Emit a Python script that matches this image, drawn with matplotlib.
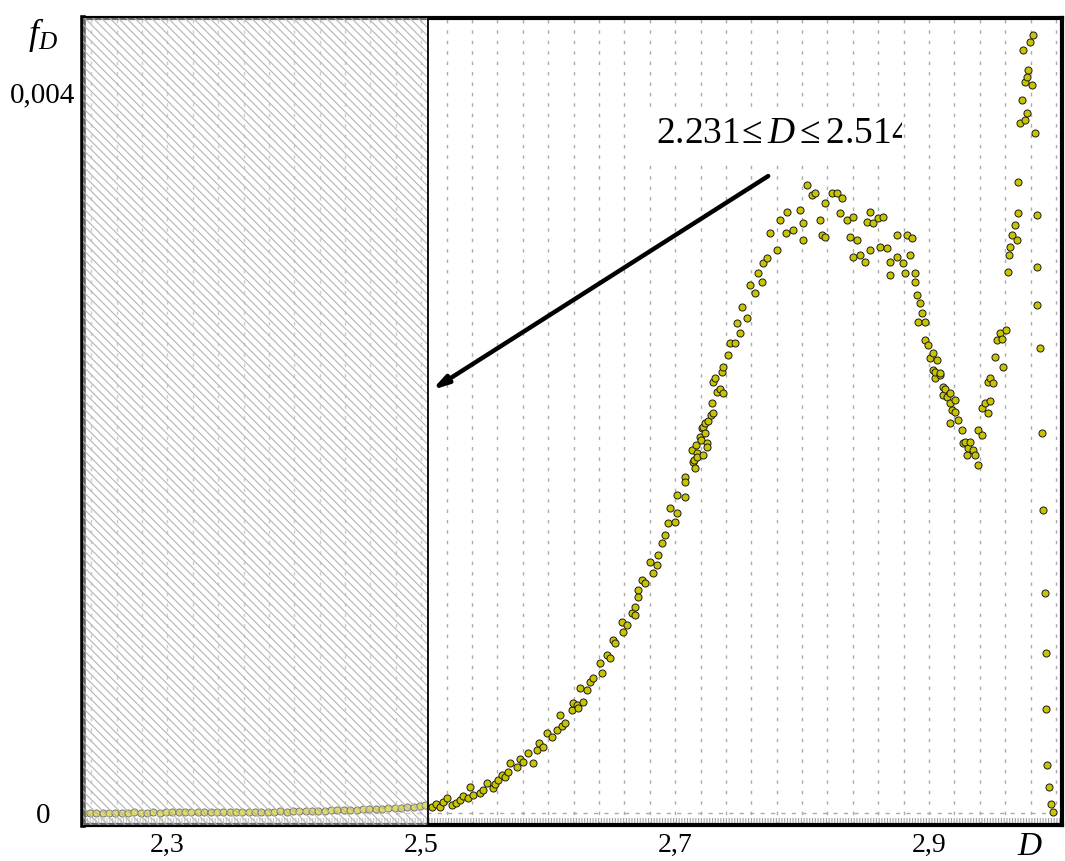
import numpy as np
import matplotlib
matplotlib.use('Agg')
import matplotlib.pyplot as plt
from matplotlib.patches import Rectangle
from matplotlib.ticker import MultipleLocator
from matplotlib.transforms import Bbox, TransformedBbox

plt.rcParams['font.family'] = ['Liberation Serif', 'DejaVu Serif']
plt.rcParams['mathtext.fontset'] = 'custom'
plt.rcParams['mathtext.rm'] = 'Liberation Serif'
plt.rcParams['mathtext.it'] = 'Liberation Serif:italic'
plt.rcParams['hatch.linewidth'] = 0.8

# D values and f_D values (f_D in units of 1e-3)
d_tail = [2.234, 2.239, 2.244, 2.249, 2.254, 2.259, 2.264, 2.269, 2.274, 2.279,
          2.284, 2.289, 2.294, 2.299, 2.304, 2.309, 2.314, 2.319, 2.324, 2.329,
          2.334, 2.339, 2.344, 2.349, 2.354, 2.359, 2.364, 2.369, 2.374, 2.379,
          2.384, 2.389, 2.394, 2.399, 2.404, 2.409, 2.414, 2.419, 2.424, 2.429,
          2.434, 2.439, 2.444, 2.449, 2.454, 2.459, 2.464, 2.469, 2.474, 2.479,
          2.484, 2.489, 2.494, 2.499, 2.503]
f_tail = [0.001, 0.002, 0.001, 0.002, 0.002, 0.001, 0.002, 0.002, 0.003, 0.002,
          0.002, 0.003, 0.002, 0.003, 0.003, 0.003, 0.004, 0.003, 0.004, 0.004,
          0.004, 0.005, 0.004, 0.005, 0.006, 0.005, 0.006, 0.007, 0.006, 0.008,
          0.007, 0.009, 0.008, 0.010, 0.011, 0.010, 0.012, 0.013, 0.012, 0.015,
          0.014, 0.016, 0.018, 0.017, 0.020, 0.022, 0.021, 0.025, 0.027, 0.026,
          0.030, 0.033, 0.031, 0.038, 0.042]

d_rise = [2.5082, 2.5120, 2.5147, 2.5170, 2.5200, 2.5239, 2.5270, 2.5305, 2.5330, 2.5368,
          2.5384, 2.5410, 2.5462, 2.5490, 2.5515, 2.5565, 2.5580, 2.5604, 2.5633, 2.5660,
          2.5683, 2.5699, 2.5751, 2.5780, 2.5801, 2.5840, 2.5880, 2.5909, 2.5930, 2.5959,
          2.5988, 2.6030, 2.6067, 2.6093, 2.6110, 2.6132, 2.6185, 2.6195, 2.6224, 2.6234,
          2.6250, 2.6274, 2.6303, 2.6329, 2.6353, 2.6408, 2.6421, 2.6460, 2.6486, 2.6510,
          2.6526, 2.6579, 2.6589, 2.6618, 2.6657, 2.6683, 2.6680, 2.6707, 2.6705, 2.6736,
          2.6762, 2.6801, 2.6825, 2.6854, 2.6865, 2.6894, 2.6920, 2.6943, 2.6959, 2.6998,
          2.7012, 2.7015, 2.7077, 2.7080, 2.7074, 2.7130, 2.7140, 2.7145, 2.7156, 2.7169,
          2.7166, 2.7172, 2.7195, 2.7209, 2.7206, 2.7219, 2.7221, 2.7235, 2.7238, 2.7248,
          2.7252, 2.7260, 2.7288, 2.7286, 2.7298, 2.7302, 2.7314, 2.7327, 2.7353, 2.7366,
          2.7377, 2.7375, 2.7416, 2.7432, 2.7471, 2.7484, 2.7510, 2.7524, 2.7563, 2.7589,
          2.7629, 2.7652, 2.7681, 2.7692, 2.7721, 2.7747, 2.7800, 2.7826, 2.7878, 2.7875,
          2.7928, 2.7983]
f_rise = [0.035, 0.050, 0.035, 0.060, 0.083, 0.044, 0.058, 0.072, 0.095, 0.083,
          0.144, 0.100, 0.111, 0.125, 0.166, 0.139, 0.160, 0.183, 0.211, 0.200,
          0.227, 0.277, 0.255, 0.300, 0.283, 0.333, 0.277, 0.350, 0.390, 0.366,
          0.444, 0.420, 0.460, 0.544, 0.480, 0.499, 0.571, 0.610, 0.599, 0.585,
          0.694, 0.616, 0.682, 0.727, 0.749, 0.832, 0.777, 0.877, 0.860, 0.960,
          0.943, 1.060, 1.004, 1.043, 1.110, 1.143, 1.099, 1.237, 1.198, 1.293,
          1.276, 1.393, 1.332, 1.376, 1.431, 1.498, 1.542, 1.609, 1.692, 1.614,
          1.764, 1.664, 1.864, 1.836, 1.753, 2.014, 1.947, 1.960, 1.914, 1.997,
          2.042, 1.975, 2.086, 2.136, 2.069, 2.142, 1.986, 2.164, 2.108, 2.053,
          2.030, 2.175, 2.275, 2.208, 2.391, 2.220, 2.413, 2.336, 2.350, 2.447,
          2.474, 2.330, 2.541, 2.608, 2.608, 2.719, 2.663, 2.807, 2.746, 2.929,
          2.885, 2.996, 2.946, 3.051, 3.079, 3.218, 3.124, 3.290, 3.336, 3.218,
          3.234, 3.345]

d_peak = [2.8007, 2.8010, 2.8036, 2.8075, 2.8101, 2.8141, 2.8154, 2.8180, 2.8183, 2.8233,
          2.8272, 2.8298, 2.8312, 2.8351, 2.8377, 2.8401, 2.8404, 2.8430, 2.8456, 2.8495,
          2.8508, 2.8534, 2.8537, 2.8558, 2.8597, 2.8613, 2.8637, 2.8666, 2.8692, 2.8695,
          2.8745, 2.8748, 2.8794, 2.8810, 2.8824, 2.8850, 2.8863]
f_peak = [3.273, 3.179, 3.484, 3.429, 3.441, 3.290, 3.207, 3.384, 3.196, 3.440,
          3.441, 3.329, 3.412, 3.290, 3.196, 3.307, 3.085, 3.179, 3.096, 3.057,
          3.281, 3.336, 3.124, 3.273, 3.301, 3.140, 3.307, 3.135, 3.057, 2.985,
          3.207, 3.085, 3.051, 2.996, 3.207, 3.096, 3.190]

d_dip = [2.8889, 2.8892, 2.8902, 2.8913, 2.8928, 2.8942, 2.8968, 2.8970, 2.8991, 2.9007,
         2.9031, 2.9034, 2.9046, 2.9049, 2.9060, 2.9086, 2.9089, 2.9110, 2.9113, 2.9125,
         2.9139, 2.9165, 2.9168, 2.9162, 2.9178, 2.9204, 2.9207, 2.9228, 2.9257, 2.9267,
         2.9283, 2.9296, 2.9306, 2.9322, 2.9346, 2.9362, 2.9385]
f_dip = [2.996, 2.946, 2.874, 2.724, 2.829, 2.774, 2.724, 2.624, 2.596, 2.524,
         2.458, 2.552, 2.413, 2.447, 2.513, 2.430, 2.441, 2.363, 2.319, 2.350,
         2.308, 2.330, 2.275, 2.164, 2.236, 2.291, 2.225, 2.180, 2.125, 2.053,
         2.060, 1.986, 2.025, 2.058, 2.014, 1.986, 1.931]

d_spike = [2.9385, 2.9414, 2.9417, 2.9440, 2.9464, 2.9466, 2.9480, 2.9482, 2.9503, 2.9519,
           2.9532, 2.9559, 2.9572, 2.9582, 2.9606, 2.9622, 2.9629, 2.9637, 2.9651, 2.9677,
           2.9690, 2.9700, 2.9702, 2.9716, 2.9729, 2.9737, 2.9755, 2.9757, 2.9769, 2.9771,
           2.9779, 2.9795, 2.9808, 2.9818, 2.9834, 2.9848, 2.9850, 2.9852, 2.9874, 2.9887,
           2.9897, 2.9913, 2.9921, 2.9923, 2.9929, 2.9944, 2.9958, 2.9976]
f_spike = [2.125, 2.097, 2.247, 2.275, 2.219, 2.391, 2.285, 2.413, 2.386, 2.530,
           2.624, 2.663, 2.630, 2.474, 2.680, 3.001, 3.096, 3.140, 3.207, 3.262,
           3.179, 3.329, 3.501, 3.828, 3.956, 4.233, 4.057, 3.845, 4.085, 3.884,
           4.122, 4.279, 4.039, 4.316, 3.773, 3.318, 3.029, 2.818, 2.580, 2.110,
           1.681, 1.221, 0.888, 0.577, 0.266, 0.144, 0.050, 0.005]

x_ticks = [2.3, 2.5, 2.7, 2.9]
x_tick_labels = ['2,3', '2,5', '2,7', '2,9']
y_ticks = [0, 0.004]
y_tick_labels = ['0', '0,004']
shade_left, shade_right = 2.2335, 2.5053
note = r'$2.231\!\leq D \leq 2.514$'

d_all = np.concatenate([d_tail, d_rise, d_peak, d_dip, d_spike])
f_all = np.concatenate([f_tail, f_rise, f_peak, f_dip, f_spike]) * 1e-3

fig = plt.figure(figsize=(10.65, 8.61), dpi=100)
ax = fig.add_axes([0.0779, 0.0418, 0.9192, 0.9373])
ax.set_xlim(2.2335, 3.0047)
ax.set_ylim(-0.0000666, 0.004411)

# dashed vertical grid every 0.02
ax.set_xticks(x_ticks, x_tick_labels)
ax.xaxis.set_minor_locator(MultipleLocator(0.02))
ax.grid(which='both', axis='x', color='#ababab', lw=1.0, ls=(0, (2.5, 5)))
ax.set_axisbelow(True)
ax.axhline(0, color='#ababab', lw=1.0, ls=(0, (3, 4.5)), zorder=1)
ax.axhspan(-0.0000666, -0.000025, facecolor='none', edgecolor='#a0a0a0',
           hatch='||||||', lw=0, zorder=1)

ax.scatter(d_all, f_all, s=26, facecolor='#c9c400', edgecolor='#1a1a1a',
           linewidths=0.7, zorder=2)

# hatched excluded region
ax.axvspan(shade_left, shade_right, facecolor=(1, 1, 1, 0.4), edgecolor='#b4b4b4',
           hatch='\\\\\\\\', lw=0, zorder=3)
ax.axvline(shade_right, color='black', lw=1.3, zorder=4)

# annotation in a white box that cuts off the last digit
bx0, bx1, by0, by1 = 2.677, 2.8787, 3.595e-3, 3.911e-3
box = Rectangle((bx0, by0), bx1 - bx0, by1 - by0,
                facecolor='white', edgecolor='none', zorder=5)
ax.add_patch(box)
txt = ax.text(2.6849, 3.719e-3, note, fontsize=27, zorder=6, va='baseline')
txt.set_clip_on(True)
txt.set_clip_box(TransformedBbox(Bbox([[bx0, by0], [bx1, by1]]), ax.transData))
ax.annotate('', xy=(2.5084, 2.347e-3), xytext=(2.7733, 3.534e-3),
            arrowprops=dict(arrowstyle='-|>,head_length=0.9,head_width=0.25',
                            lw=3.2, color='black', shrinkA=0, shrinkB=0), zorder=6)

ax.set_yticks(y_ticks, y_tick_labels)
for lab in ax.get_yticklabels():
    lab.set_ha('center')
ax.tick_params(which='both', length=0, labelsize=20)
ax.tick_params(axis='y', pad=29, labelsize=21)
ax.tick_params(axis='x', pad=6)

ax.set_ylabel(r'$f_D$', rotation=0, fontsize=26, va='center')
ax.yaxis.set_label_coords(-0.041, 0.979)
ax.set_xlabel(r'$D$', fontsize=24)
ax.xaxis.set_label_coords(0.967, -0.008)

for s in ax.spines.values():
    s.set_linewidth(3)
ax.spines['left'].set_linewidth(4)

fig.savefig('out.png', dpi=100)
